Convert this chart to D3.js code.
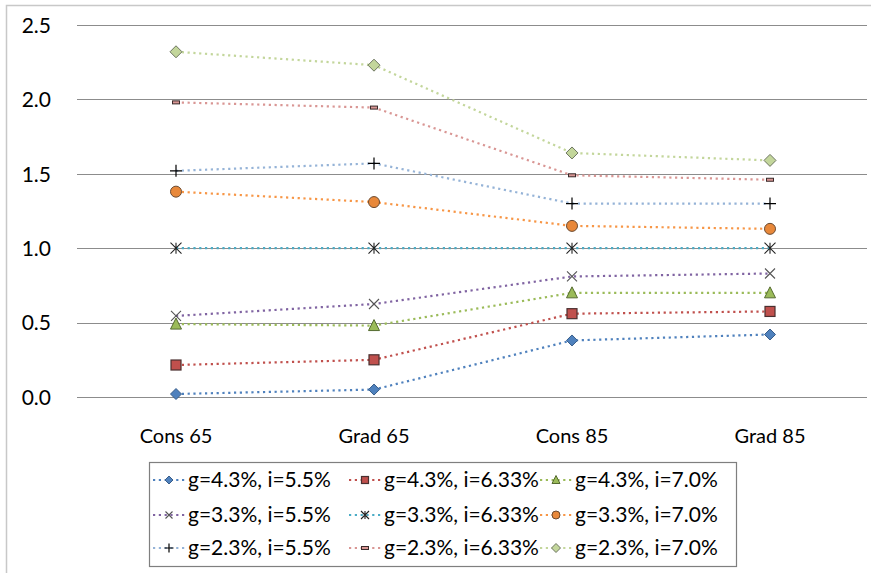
<!DOCTYPE html>
<html><head><meta charset="utf-8">
<script src="https://cdn.jsdelivr.net/npm/d3@7"></script>
<style>body{margin:0;background:#fff}svg{display:block}text{font-family:Lato,"Open Sans",sans-serif;fill:#000}</style>
</head><body><svg id="c" width="871" height="573"></svg>
<script>
const categories = ["Cons 65","Grad 65","Cons 85","Grad 85"];
const seriesNames = ["g=4.3%, i=5.5%","g=4.3%, i=6.33%","g=4.3%, i=7.0%",
  "g=3.3%, i=5.5%","g=3.3%, i=6.33%","g=3.3%, i=7.0%",
  "g=2.3%, i=5.5%","g=2.3%, i=6.33%","g=2.3%, i=7.0%"];
const s1 = [0.02, 0.05, 0.38, 0.42];
const s2 = [0.215, 0.25, 0.56, 0.575];
const s3 = [0.49, 0.48, 0.70, 0.70];
const s4 = [0.545, 0.625, 0.81, 0.83];
const s5 = [1.0, 1.0, 1.0, 1.0];
const s6 = [1.38, 1.31, 1.15, 1.13];
const s7 = [1.52, 1.57, 1.30, 1.30];
const s8 = [1.98, 1.945, 1.49, 1.46];
const s9 = [2.32, 2.23, 1.64, 1.59];
const yTicks = [0, 0.5, 1.0, 1.5, 2.0, 2.5];

const seriesValues = [s1,s2,s3,s4,s5,s6,s7,s8,s9];
const lineColors = ["#4F81BD","#C0504D","#9BBB59","#8064A2","#4BACC6","#F79646","#95B3D7","#D99694","#C3D69B"];
const markers = [
  {type:"diamond", fill:"#4F81BD", stroke:"#385D8A", size:10},
  {type:"square", fill:"#C0504D", stroke:"#4a3030", size:10},
  {type:"triangle", fill:"#9BBB59", stroke:"#556b30", size:10},
  {type:"x", fill:"none", stroke:"#555", size:10},
  {type:"asterisk", fill:"none", stroke:"#222", size:11},
  {type:"circle", fill:"#E8883A", stroke:"#6b4a30", size:11},
  {type:"plus", fill:"none", stroke:"#000", size:12},
  {type:"dash", fill:"#D99694", stroke:"#3a2a2a", size:7},
  {type:"diamond", fill:"#C3D69B", stroke:"#6d7560", size:11}
];

const svg = d3.select("#c");
svg.append("rect").attr("x",6.5).attr("y",5.5).attr("width",880).attr("height",580)
  .attr("fill","none").attr("stroke","#c8c8c8").attr("stroke-width",1.5);

const x = d3.scaleBand().domain(categories).range([77,869]);
const y = d3.scaleLinear().domain([0,2.5]).range([397,25]);

svg.append("g").selectAll("line").data(yTicks).join("line")
  .attr("x1",77).attr("x2",867).attr("y1",d=>Math.round(y(d))+0.5).attr("y2",d=>Math.round(y(d))+0.5)
  .attr("stroke","#8c8c8c").attr("stroke-width",1);

const yAxis = d3.axisLeft(y).tickValues(yTicks).tickFormat(d3.format(".1f")).tickSize(0).tickPadding(0);
const ya = svg.append("g").attr("transform","translate(51,0)").call(yAxis);
ya.select(".domain").remove();
ya.selectAll("text").style("font-size","21px").attr("dy","0.35em").style("font-family","Lato, 'Open Sans', sans-serif");

const xAxis = d3.axisBottom(x).tickSize(0).tickPadding(0);
const xa = svg.append("g").attr("transform","translate(0,436)").call(xAxis);
xa.select(".domain").remove();
xa.selectAll("text").style("font-size","20px").attr("dy","0.35em").style("font-family","Lato, 'Open Sans', sans-serif");

function drawMarker(g, m, cx, cy){
  const s = m.size, h = s/2;
  if(m.type==="diamond"){
    g.append("path").attr("d",`M${cx},${cy-h-0.5}L${cx+h+0.5},${cy}L${cx},${cy+h+0.5}L${cx-h-0.5},${cy}Z`)
      .attr("fill",m.fill).attr("stroke",m.stroke).attr("stroke-width",1);
  } else if(m.type==="square"){
    g.append("rect").attr("x",cx-h).attr("y",cy-h).attr("width",s).attr("height",s)
      .attr("fill",m.fill).attr("stroke",m.stroke).attr("stroke-width",1.2);
  } else if(m.type==="triangle"){
    g.append("path").attr("d",`M${cx},${cy-h-1}L${cx+h+0.5},${cy+h}L${cx-h-0.5},${cy+h}Z`)
      .attr("fill",m.fill).attr("stroke",m.stroke).attr("stroke-width",1);
  } else if(m.type==="circle"){
    g.append("circle").attr("cx",cx).attr("cy",cy).attr("r",h)
      .attr("fill",m.fill).attr("stroke",m.stroke).attr("stroke-width",1);
  } else if(m.type==="x"){
    g.append("path").attr("d",`M${cx-h},${cy-h}L${cx+h},${cy+h}M${cx-h},${cy+h}L${cx+h},${cy-h}`)
      .attr("stroke",m.stroke).attr("stroke-width",1.1).attr("fill","none");
  } else if(m.type==="asterisk"){
    g.append("path").attr("d",`M${cx-h},${cy-h}L${cx+h},${cy+h}M${cx-h},${cy+h}L${cx+h},${cy-h}M${cx},${cy-h}L${cx},${cy+h}`)
      .attr("stroke",m.stroke).attr("stroke-width",1.1).attr("fill","none");
  } else if(m.type==="plus"){
    g.append("path").attr("d",`M${cx-h},${cy}L${cx+h},${cy}M${cx},${cy-h}L${cx},${cy+h}`)
      .attr("stroke",m.stroke).attr("stroke-width",1.2).attr("fill","none");
  } else if(m.type==="dash"){
    g.append("rect").attr("x",cx-3.5).attr("y",cy-1.5).attr("width",7).attr("height",3)
      .attr("fill",m.fill).attr("stroke",m.stroke).attr("stroke-width",1);
  }
}

const line = d3.line().x((d,i)=>x(categories[i])+x.bandwidth()/2).y(d=>y(d));
const gl = svg.append("g");
seriesValues.forEach((vals,k)=>{
  gl.append("path").attr("d",line(vals)).attr("fill","none")
    .attr("stroke",lineColors[k]).attr("stroke-width",2.2)
    .attr("stroke-dasharray","2.2,3.6");
});
seriesValues.forEach((vals,k)=>{
  const g = svg.append("g");
  vals.forEach((v,i)=>drawMarker(g, markers[k], x(categories[i])+x.bandwidth()/2, y(v)));
});

const lg = svg.append("g");
lg.append("rect").attr("x",149.5).attr("y",462.5).attr("width",587).attr("height",104)
  .attr("fill","#fff").attr("stroke","#7f7f7f").attr("stroke-width",1.2);
const colX = [153, 349, 540];
const rowY = [480, 515, 548];
seriesNames.forEach((name,k)=>{
  const cx = colX[k%3], cy = rowY[Math.floor(k/3)];
  lg.append("line").attr("x1",cx).attr("x2",cx+32).attr("y1",cy).attr("y2",cy)
    .attr("stroke",lineColors[k]).attr("stroke-width",2.2).attr("stroke-dasharray","2.2,3.6");
  const m = Object.assign({}, markers[k]);
  m.size = m.type==="dash" ? 7 : Math.max(6, m.size-3);
  drawMarker(lg, m, cx+16, cy);
  lg.append("text").attr("x",cx+35).attr("y",cy).attr("dy","0.35em")
    .style("font-size","21px").text(name);
});
</script></body></html>
